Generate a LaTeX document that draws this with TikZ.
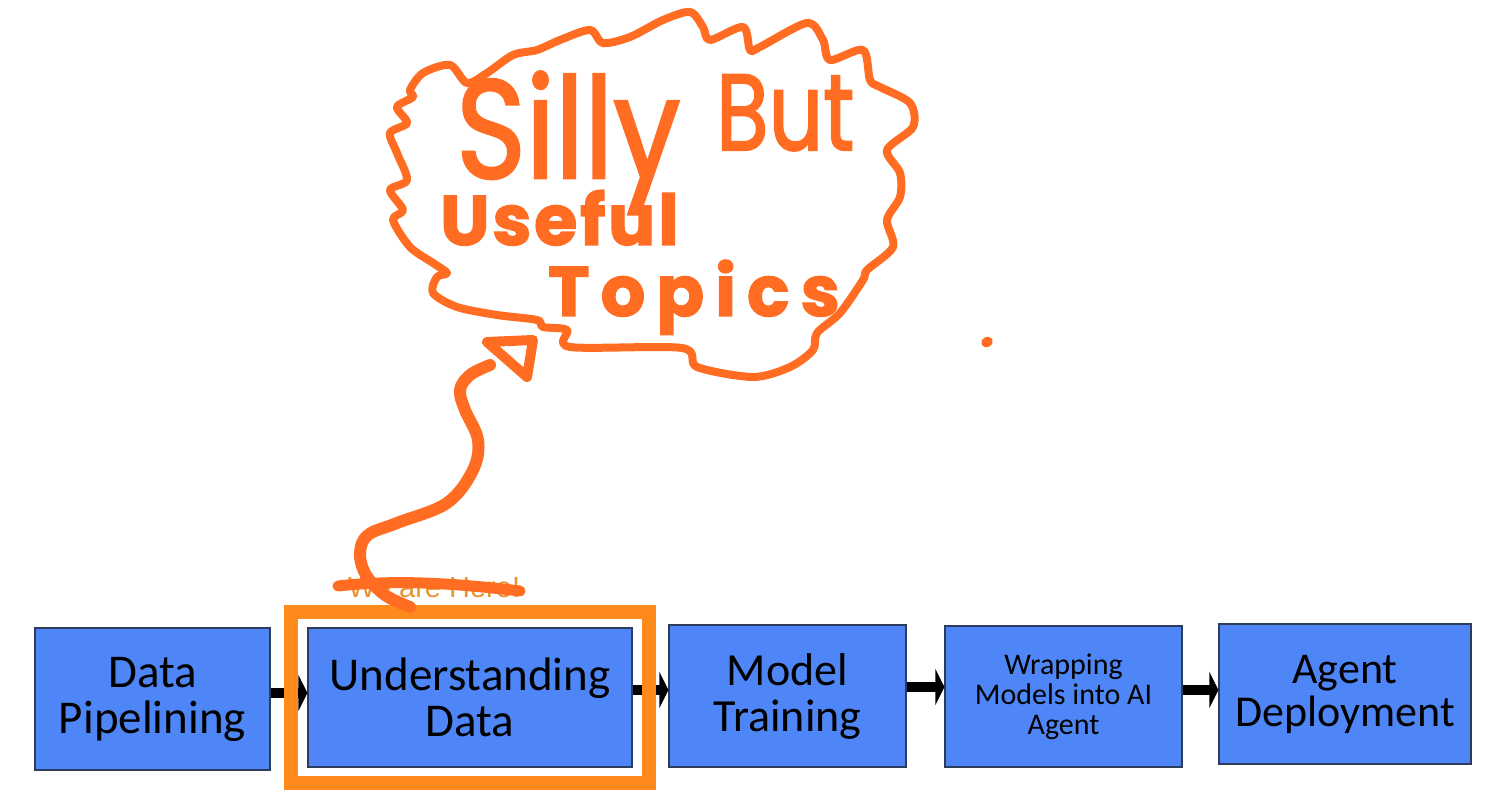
\documentclass[tikz,border=0pt]{standalone}
\usepackage{fontspec}
\setmainfont{Carlito}
\newfontfamily\handfont{Poppins}[FakeBold=2]
\newfontfamily\notefont{Liberation Sans}
\usetikzlibrary{arrows.meta,fit}

\definecolor{stageblue}{RGB}{79,134,247}
\definecolor{stageedge}{RGB}{45,60,92}
\definecolor{frameorange}{RGB}{255,138,28}
\definecolor{inkorange}{RGB}{255,108,34}
\definecolor{noteorange}{RGB}{232,148,48}

\tikzset{
  stage/.style={draw=stageedge, line width=1.2pt, fill=stageblue, align=center,
    inner sep=0pt, font=\fontsize{47}{46}\selectfont},
  flow/.style={line width=10pt, -{Triangle[length=9pt,width=36pt]}},
  ink/.style={draw=inkorange, line cap=round, line join=round},
  scribble/.style={text=inkorange, inner sep=0pt, anchor=base west},
}

\begin{document}
\begin{tikzpicture}[x=1pt,y=-1pt]
  \useasboundingbox[fill=white] (0,0) rectangle (1502,810);

  % the five stages
  \node[stage, minimum width=235pt, minimum height=142pt] (dp) at (152.5,699) {Data\\Pipelining};
  \node[stage, minimum width=324pt, minimum height=139pt] (ud) at (470,697.5) {Understanding\\Data};
  \node[stage, minimum width=237pt, minimum height=142pt, font=\fontsize{46}{46}\selectfont] (mt) at (787.5,696) {Model\\Training};
  \node[stage, minimum width=237pt, minimum height=141pt, font=\fontsize{30}{30}\selectfont] (wm) at (1063.5,696.5) {Wrapping\\Models into AI\\Agent};
  \node[stage, minimum width=252pt, minimum height=140pt, font=\fontsize{44}{43}\selectfont] (ad) at (1345,694) {Agent\\Deployment};

  \draw[flow] ([yshift=6pt]dp.east) -- ([yshift=6pt]dp.east -| ud.west);
  \draw[flow] ([yshift=7.5pt]ud.east) -- ([yshift=7.5pt]ud.east -| mt.west);
  \draw[flow] ([yshift=9pt]mt.east) -- ([yshift=9pt]mt.east -| wm.west);
  \draw[flow] ([yshift=6.5pt]wm.east) -- ([yshift=6.5pt]wm.east -| ad.west);

  % current stage
  \node[draw=frameorange, line width=14pt, fit=(ud), inner xsep=16pt, inner ysep=15pt] (focus) {};
  \node[text=noteorange, inner sep=0pt, anchor=base west, font=\notefont\fontsize{29}{29}\selectfont] (here) at (348,597) {We are Here!};
  \draw[ink, line width=11pt] (338,586) .. controls (400,579) and (460,584) .. (520,591);

  % the thought cloud
  \draw[ink, line width=8pt] plot[smooth cycle, tension=0.5] coordinates {
    (410,90) (423,73) (450,65) (467,83) (487,73) (513,55) (537,50) (560,40)
    (590,30) (603,43) (630,37) (663,20) (690,12) (703,27) (710,40) (743,27)
    (750,50) (760,47) (807,23) (823,40) (830,60) (863,50) (870,80) (880,87)
    (910,103) (913,127) (887,150) (900,173) (900,197) (887,220) (893,247)
    (867,270) (863,280) (840,313) (817,333) (813,350) (790,367) (753,377)
    (697,367) (682,348) (570,347) (567,330) (543,327) (537,320) (497,315)
    (457,307) (433,293) (437,277) (447,273) (433,263) (410,247) (393,220)
    (403,210) (390,190) (407,180) (397,153) (390,133) (407,123) (397,107)
    (413,97)};
  \node[scribble, font=\handfont\fontsize{112}{112}\selectfont] (silly) at (456,178) {\scalebox{1.06}[1.25]{Silly}};
  \node[scribble, font=\handfont\fontsize{90}{90}\selectfont] (but) at (716,150) {\scalebox{0.95}[1.2]{But}};
  \node[scribble, font=\handfont\bfseries\fontsize{70}{70}\selectfont\addfontfeature{LetterSpace=4}] (useful) at (440,245) {Useful};
  \node[scribble, font=\handfont\bfseries\fontsize{70}{70}\selectfont\addfontfeature{LetterSpace=16}] (topics) at (548,316) {Topics};

  % squiggle up to the cloud
  \draw[ink, line width=12pt] plot[smooth, tension=0.6] coordinates {
    (410,607) (385,595) (366,575) (360,553) (368,535) (397,523) (447,503)
    (473,470) (478,440) (465,410) (460,390) (470,375) (490,365)};
  \draw[ink, line width=10pt] (487,342) -- (533,340) -- (527,377) -- cycle;
  \fill[inkorange, rotate around={30:(987,342)}] (987,342) ellipse (6 and 5);
\end{tikzpicture}
\end{document}
